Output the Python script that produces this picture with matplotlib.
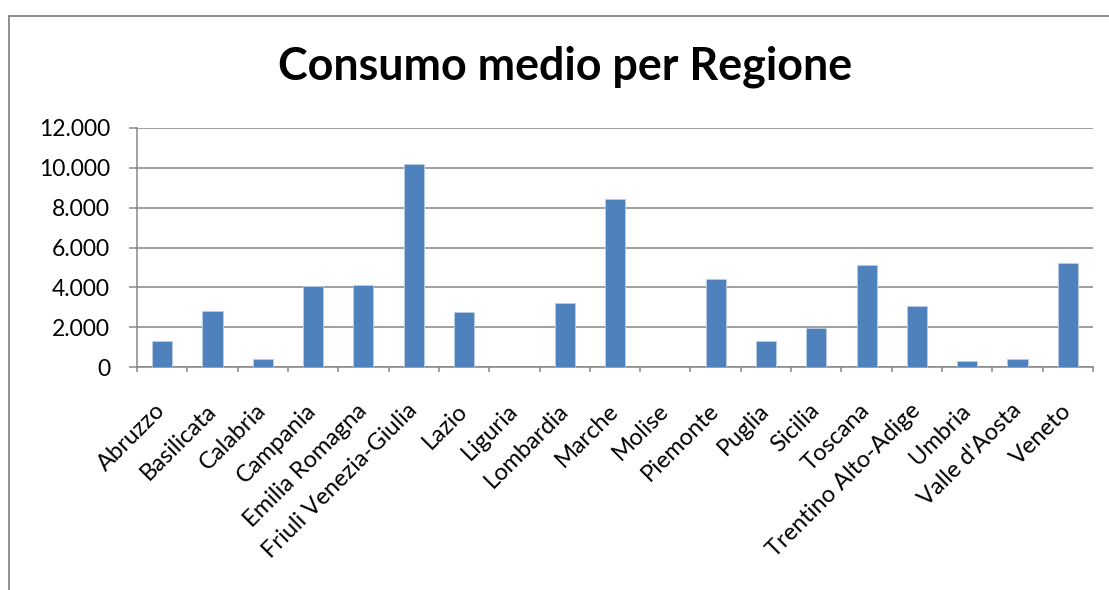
import matplotlib
matplotlib.use('Agg')
import matplotlib.pyplot as plt
from matplotlib.lines import Line2D
from matplotlib.ticker import FuncFormatter, FixedLocator

regioni = ["Abruzzo", "Basilicata", "Calabria", "Campania", "Emilia Romagna",
           "Friuli Venezia-Giulia", "Lazio", "Liguria", "Lombardia", "Marche",
           "Molise", "Piemonte", "Puglia", "Sicilia", "Toscana",
           "Trentino Alto-Adige", "Umbria", "Valle d'Aosta", "Veneto"]
consumo = [1310, 2800, 420, 4080, 4140, 10180, 2750, 0, 3190, 8420,
           0, 4400, 1325, 1980, 5100, 3070, 320, 420, 5235]
y_ticks = [0, 2000, 4000, 6000, 8000, 10000, 12000]

plt.rcParams['font.family'] = ['Lato', 'DejaVu Sans']
grey = '#868686'

fig = plt.figure(figsize=(11.09, 5.90), dpi=100)
ax = fig.add_axes([137 / 1109, 1 - 367 / 590, (1093 - 137) / 1109, (367 - 128) / 590])

x = range(len(regioni))
ax.bar(x, consumo, width=0.4, color='#4F81BD', edgecolor='#B9CDE5', linewidth=0.6, zorder=3)

ax.set_xlim(-0.5, len(regioni) - 0.5)
ax.set_ylim(0, 12000)
ax.yaxis.set_major_locator(FixedLocator(y_ticks))
ax.yaxis.set_major_formatter(FuncFormatter(lambda v, p: f"{int(v):,}".replace(",", ".")))
ax.grid(axis='y', color=grey, linewidth=1.1, zorder=0)

# category labels at centres, tick marks at the boundaries
ax.set_xticks(list(x))
ax.set_xticklabels(regioni, rotation=45, ha='right', va='center', rotation_mode='anchor')
ax.tick_params(axis='x', length=0, pad=29, labelsize=17)
ax.set_xticks([i - 0.5 for i in range(len(regioni) + 1)], minor=True)
ax.tick_params(axis='x', which='minor', length=3.8, width=1.1, color=grey, direction='out')
ax.tick_params(axis='y', length=5.8, width=1.1, color=grey, labelsize=16.5, pad=13.5)

for side in ['top', 'right']:
    ax.spines[side].set_visible(False)
for side in ['left', 'bottom']:
    ax.spines[side].set_color(grey)
    ax.spines[side].set_linewidth(1.1)

fig.text(565 / 1109, 1 - 67 / 590, "Consumo medio per Regione", ha='center', va='center',
         fontsize=32.3, fontweight='bold')

# chart frame
fig.add_artist(Line2D([8.5 / 1109, 1], [1 - 15.5 / 590] * 2, color=grey, linewidth=1.3,
                      transform=fig.transFigure))
fig.add_artist(Line2D([8.5 / 1109] * 2, [0, 1 - 15.5 / 590], color=grey, linewidth=1.3,
                      transform=fig.transFigure))

fig.savefig("out.png", dpi=100)
